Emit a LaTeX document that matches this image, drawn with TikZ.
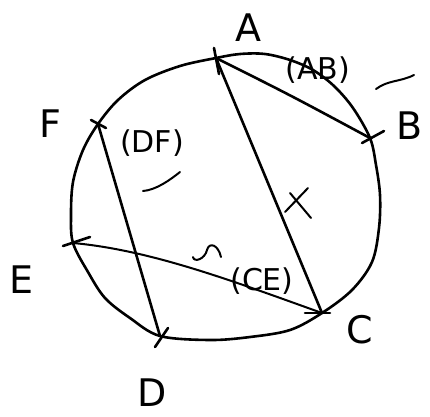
\documentclass[tikz,border=0pt]{standalone}
\usepackage{fontspec}
\setmainfont{DejaVu Sans}
\begin{document}
\begin{tikzpicture}[x=1pt,y=-1pt,line cap=round,line join=round,
  ink/.style={line width=2.6pt,black},
  thin ink/.style={line width=2pt,black},
  lbl/.style={font=\fontsize{38}{38}\selectfont},
  note/.style={font=\fontsize{30}{30}\selectfont}]
\useasboundingbox (0,0) rectangle (430,416);
% points on the circle
\coordinate (A) at (216,58);
\coordinate (B) at (370,138);
\coordinate (C) at (322,313);
\coordinate (D) at (160,336);
\coordinate (E) at (73,243);
\coordinate (F) at (98,124);
% circle
\draw[ink] plot[smooth cycle,tension=0.55] coordinates {
  (A) (240,54) (265,54) (290,60) (313,70) (334,86) (353,108) (B) (376,165)
  (380,195) (379,228) (372,262) (352,290) (C) (290,330) (250,337) (210,340)
  (D) (130,318) (105,298) (88,272) (E) (71,215) (73,182) (83,150) (F)
  (118,100) (145,80) (180,66)};
% chords
\draw[ink] (A) -- (C);
\draw[ink] (A) .. controls (290,95) .. (B);
\draw[ink] (F) -- (D);
\draw[thin ink] (E) .. controls (150,250) and (230,280) .. (C);
% ticks
\draw[ink] (214,48) -- (219,74);
\draw[ink] (362,143) -- (384,131);
\draw[ink] (305,313) -- (330,313);
\draw[ink] (155,347) -- (168,328);
\draw[ink] (63,246) -- (90,237);
\draw[ink] (91,120) -- (106,128);
% labels
\node[lbl] (lA) at (248,28) {A};
\node[lbl] (lB) at (410,126) {B};
\node[lbl] (lC) at (360,330) {C};
\node[lbl] (lD) at (152,393) {D};
\node[lbl] (lE) at (22,280) {E};
\node[lbl] (lF) at (50,124) {F};
\node[note] (nAB) at (318,70) {(AB)};
\node[note] (nDF) at (152,143) {(DF)};
\node[note] (nCE) at (262,281) {(CE)};
% marks
\draw[thin ink] (376,89) .. controls (388,80) and (400,82) .. (414,75);
\draw[thin ink] (143,191) .. controls (156,190) and (170,180) .. (180,172);
\draw[thin ink] (290,193) -- (311,218);
\draw[thin ink] (308,188) -- (285,212);
\draw[thin ink] (193,257) .. controls (194,263) and (205,259) .. (207,250)
  .. controls (209,242) and (218,244) .. (221,257);
\end{tikzpicture}
\end{document}
